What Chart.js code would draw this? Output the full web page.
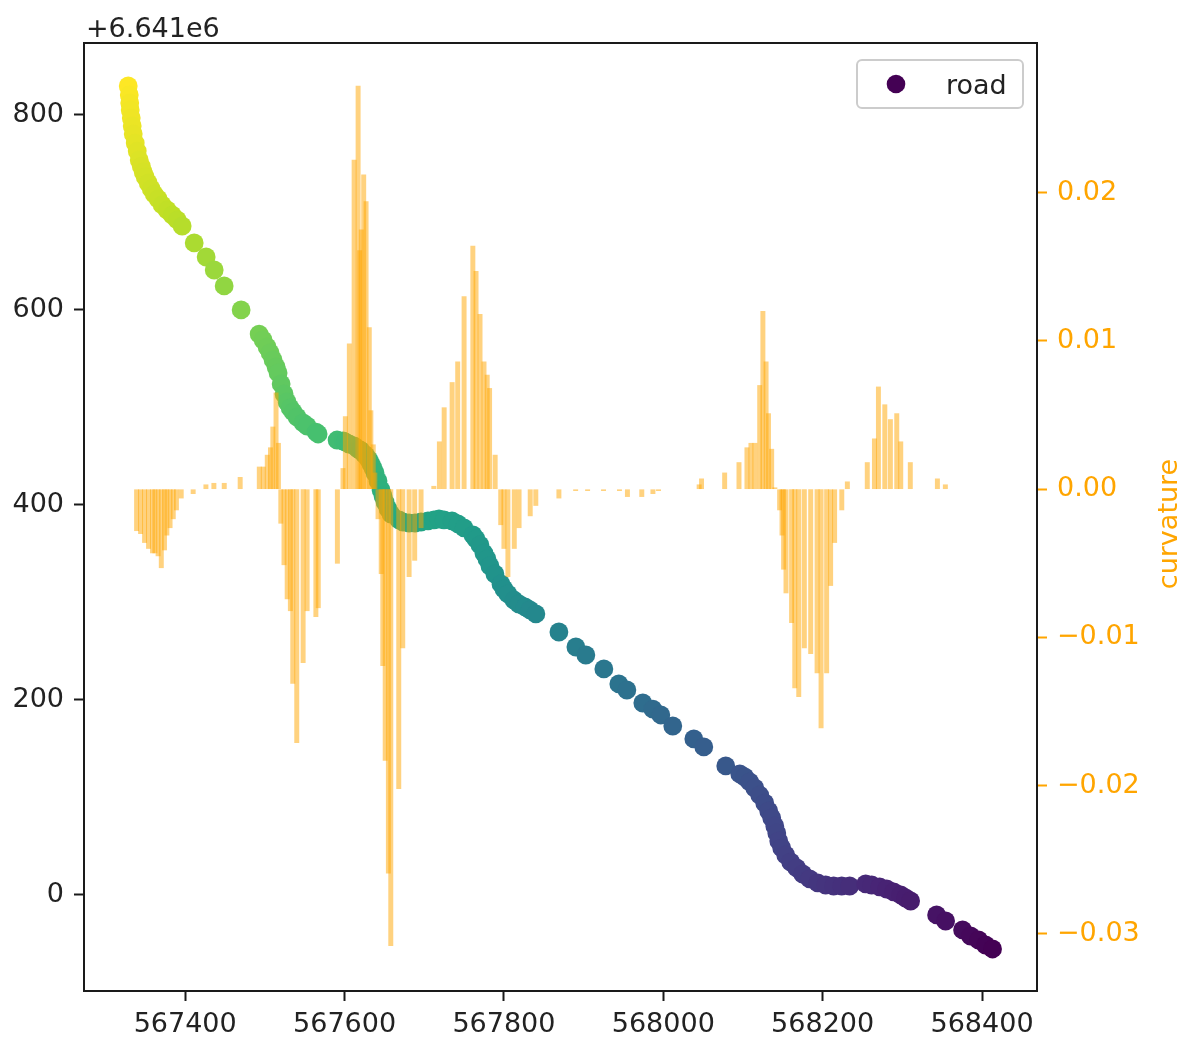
<!DOCTYPE html>
<html><head><meta charset="utf-8">
<script src="https://cdn.jsdelivr.net/npm/chart.js@4.4.1/dist/chart.umd.min.js"></script>
<style>html,body{margin:0;padding:0;background:#fff;}#wrap{width:1184px;height:1039px;position:relative;}</style>
</head><body><div id="wrap"><canvas id="c"></canvas></div>
<script>
// ---- data ----
const seriesLabel = 'road';
const curvLabel = 'curvature';
const yOffset = 6641000;
const yOffsetLabel = '+6.641e6';
const xTicks = [567400, 567600, 567800, 568000, 568200, 568400];
const yTicks = [6641000, 6641200, 6641400, 6641600, 6641800];
const curvTicks = [-0.03, -0.02, -0.01, 0.00, 0.01, 0.02];

const roadX = [
 567328.5,567329.8,567330.4,567331.0,567332.3,567333.5,567334.8,567337.3,567339.8,567342.3,567344.8,567347.3,567349.8,567353.6,567357.4,567361.1,567366.1,567371.1,567377.4,567383.7,567390.0,567396.2,
 567411.3,567426.3,567436.4,567448.9,567470.2,
 567492.8,567497.8,567502.8,567506.6,567510.3,567514.1,567516.6,567520.4,567524.1,567527.9,567531.7,567535.4,567540.4,567548.0,567553.0,567564.3,567566.8,
 567590.6,567598.1,567600.6,567605.6,567611.9,567616.9,567619.4,567620.7,567624.5,567627.0,567630.7,567633.2,567635.7,567638.3,567642.0,567645.8,567648.3,567650.8,567654.6,567658.3,567668.3,567673.4,567680.9,567688.4,567695.9,567704.7,567712.2,567718.5,567724.8,567734.8,567742.3,567749.9,567761.1,567764.9,567769.9,567774.9,567778.7,567782.5,567788.7,567796.3,567800.0,567805.0,567812.6,567818.8,567826.4,567832.6,567840.1,
 567869.0,567890.3,567902.8,567925.4,567944.2,567954.3,567974.3,567986.9,567996.9,568011.9,568038.3,568050.8,568078.4,
 568096.0,568102.2,568108.5,568114.8,568121.0,568127.3,568132.3,568136.1,568139.9,568142.4,568144.9,568148.6,568153.6,568159.9,568167.4,568175.0,568183.7,568193.8,568203.8,568213.8,568223.9,568233.9,
 568254.0,568261.5,568271.5,568280.3,568289.1,568297.9,568304.1,568310.4,568343.0,568354.3,568375.6,568385.6,568395.7,568404.4,568413.2
];
const roadY = [
 6641829.7,6641820.5,6641812.3,6641805.1,6641796.9,6641788.7,6641780.5,6641771.2,6641763.0,6641753.8,6641747.6,6641741.5,6641736.4,6641730.2,6641724.1,6641718.9,6641713.8,6641707.7,6641702.5,6641697.4,6641692.3,6641686.1,
 6641668.7,6641654.3,6641641.0,6641624.6,6641600.0,
 6641575.3,6641569.2,6641562.0,6641555.9,6641548.7,6641541.5,6641535.4,6641524.1,6641513.8,6641505.6,6641499.5,6641495.4,6641490.2,6641484.1,6641481.0,6641474.8,6641472.8,
 6641466.6,6641465.6,6641464.6,6641462.5,6641460.5,6641457.4,6641456.4,6641455.4,6641452.3,6641450.2,6641446.1,6641442.0,6641437.9,6641432.8,6641424.6,6641415.4,6641409.2,6641403.0,6641395.9,6641390.7,6641384.6,6641382.5,6641381.5,6641381.5,6641382.5,6641383.6,6641384.6,6641385.6,6641384.6,6641383.6,6641380.5,6641376.4,6641369.2,6641365.1,6641359.0,6641350.7,6641344.6,6641337.4,6641329.2,6641319.0,6641313.8,6641308.7,6641302.5,6641298.4,6641295.4,6641292.3,6641288.2,
 6641269.7,6641254.3,6641246.1,6641231.8,6641216.4,6641210.2,6641196.9,6641190.7,6641184.6,6641173.3,6641160.0,6641151.8,6641132.3,
 6641124.1,6641121.0,6641115.9,6641109.7,6641102.5,6641094.3,6641086.1,6641079.0,6641070.8,6641063.6,6641055.4,6641048.2,6641041.0,6641033.8,6641027.7,6641021.5,6641016.4,6641012.3,6641010.2,6641009.2,6641009.2,6641009.2,
 6641011.3,6641010.2,6641008.2,6641006.1,6641003.1,6641000.0,6640996.9,6640993.8,6640979.5,6640973.3,6640964.1,6640957.9,6640953.8,6640948.7,6640944.6
];

const curvX = [
 567339,567344,567349,567354,567359,567362,567366,567370,567374,567377,567381,567385,567389,567395,
 567410,567426,567436,567449,567469,
 567493,567498,567503,567507,567510,567514,567517,
 567520,567524,567528,567532,567535,567540,567548,567553,567564,567567,567591,
 567598,567601,567606,567612,567617,567619,567621,567624,567627,567631,567633,567636,567638,
 567642,567646,567648,567651,567655,567658,567668,567673,567681,567688,567696,
 567712,567719,567725,567735,567742,567750,567761,567765,567770,567775,567779,567782,567789,
 567796,567800,567805,567813,567819,567833,567840,567869,
 567890,567905,567925,567945,567955,567973,567987,567994,
 568045,568048,568077,568095,568105,568110,568115,568121,568125,568129,568132,568136,568140,
 568146,568149,568151,568154,568161,568165,568170,568177,568185,568193,568198,568205,568210,568215,568224,568231,
 568256,568265,568270,568278,568285,568293,568298,568310,568344,568354
];
const curvature = [
 -0.0028,-0.0030,-0.0036,-0.0040,-0.0043,-0.0043,-0.0045,-0.0053,-0.0041,-0.0031,-0.0026,-0.0020,-0.0014,-0.0006,
 -0.0003,0.0003,0.0004,0.0004,0.0008,
 0.0015,0.0015,0.0023,0.0028,0.0042,0.0065,0.0031,
 -0.0023,-0.0051,-0.0074,-0.0082,-0.0131,-0.0171,-0.0117,-0.0082,-0.0086,-0.0080,-0.0050,
 0.0014,0.0049,0.0098,0.0222,0.0272,0.0161,0.0175,0.0212,0.0194,0.0109,0.0053,0.0030,0.0011,
 -0.0020,-0.0057,-0.0119,-0.0183,-0.0259,-0.0308,-0.0202,-0.0107,-0.0059,-0.0048,-0.0026,
 0.0002,0.0032,0.0055,0.0072,0.0086,0.0130,0.0164,0.0147,0.0118,0.0086,0.0077,0.0068,0.0023,
 -0.0024,-0.0040,-0.0059,-0.0040,-0.0026,-0.0018,-0.0011,-0.0006,
 -0.0001,-0.0001,-0.0001,-0.0001,-0.0005,-0.0005,-0.0003,-0.0001,
 0.0003,0.0007,0.0011,0.0018,0.0028,0.0031,0.0031,0.0070,0.0120,0.0086,0.0051,0.0027,0.0001,
 -0.0014,-0.0031,-0.0054,-0.0070,-0.0090,-0.0134,-0.0140,-0.0107,-0.0111,-0.0124,-0.0161,-0.0124,-0.0065,-0.0036,-0.0014,0.0005,
 0.0018,0.0034,0.0069,0.0057,0.0047,0.0051,0.0032,0.0018,0.0007,0.0003
];

// ---- styling helpers ----
const VIR = ['#440154','#482475','#414487','#355f8d','#2a788e','#21918c','#22a884','#44bf70','#7ad151','#bddf26','#fde725'];
function hexRgb(h){return [parseInt(h.slice(1,3),16),parseInt(h.slice(3,5),16),parseInt(h.slice(5,7),16)];}
function viridis(t){
  t=Math.min(1,Math.max(0,t)); const p=t*10; const i=Math.min(9,Math.floor(p)); const f=p-i;
  const a=hexRgb(VIR[i]), b=hexRgb(VIR[i+1]);
  return 'rgb('+a.map((v,k)=>Math.round(v+(b[k]-v)*f)).join(',')+')';
}
// colour along the travelled distance (start = yellow, end = purple)
const cum=[0];
for(let i=1;i<roadX.length;i++){const dx=roadX[i]-roadX[i-1],dy=roadY[i]-roadY[i-1];cum.push(cum[i-1]+Math.hypot(dx,dy));}
const total=cum[cum.length-1];
const pointColors=cum.map(s=>viridis(1-s/total));

const FONT='DejaVu Sans';
const FS=27;
const TXT='#222';
const ORANGE='#FFA500';

const decor={
  id:'decor',
  beforeDraw(chart){const c=chart.ctx;c.save();c.fillStyle='#fff';c.fillRect(0,0,chart.width,chart.height);c.restore();},
  afterDatasetsDraw(chart){
    const c=chart.ctx, a=chart.chartArea;
    c.save();
    c.strokeStyle='#1a1a1a'; c.lineWidth=2;
    c.strokeRect(a.left,a.top,a.right-a.left,a.bottom-a.top);
    // offset text
    c.fillStyle=TXT; c.font=FS+'px "'+FONT+'"'; c.textAlign='left'; c.textBaseline='alphabetic';
    c.fillText(yOffsetLabel,a.left+2,a.top-6);
    // right axis label
    c.save(); c.translate(1177,524); c.rotate(-Math.PI/2); c.fillStyle=ORANGE; c.textAlign='center';
    c.fillText(curvLabel,0,0); c.restore();
    // legend
    const lx=857, ly=60, lw=166, lh=48;
    c.beginPath(); c.roundRect(lx,ly,lw,lh,5);
    c.fillStyle='rgba(255,255,255,0.8)'; c.fill();
    c.strokeStyle='#cccccc'; c.lineWidth=2; c.stroke();
    c.beginPath(); c.arc(896,84,9.3,0,Math.PI*2); c.fillStyle='#440154'; c.fill();
    c.fillStyle=TXT; c.textAlign='left'; c.fillText(seriesLabel,946,94);
    c.restore();
  }
};

const minus=v=>v<0?'\u2212'+Math.abs(v).toFixed(2):v.toFixed(2);

new Chart(document.getElementById('c'),{
  type:'scatter',
  data:{datasets:[
    {type:'bar',label:curvLabel,yAxisID:'y2',xAxisID:'x',order:0,
     data:curvX.map((x,i)=>({x:x,y:curvature[i]})),
     backgroundColor:'rgba(255,165,0,0.5)',borderWidth:0,barThickness:4.3},
    {type:'scatter',label:seriesLabel,yAxisID:'y',xAxisID:'x',order:1,
     data:roadX.map((x,i)=>({x:x,y:roadY[i]})),
     pointRadius:9.4,pointHoverRadius:9.4,pointBorderWidth:0,
     pointBackgroundColor:pointColors,pointBorderColor:pointColors}
  ]},
  options:{
    responsive:true,maintainAspectRatio:false,animation:false,devicePixelRatio:1,events:[],
    layout:{padding:{top:43,left:0,right:0,bottom:0}},
    plugins:{legend:{display:false},tooltip:{enabled:false},title:{display:false}},
    scales:{
      x:{type:'linear',position:'bottom',min:567273,max:568469,offset:false,
         afterBuildTicks:s=>{s.ticks=xTicks.map(v=>({value:v}));},
         afterFit:s=>{s.height=48;},
         ticks:{callback:v=>String(v),color:TXT,font:{family:FONT,size:FS},padding:8,maxRotation:0,autoSkip:false},
         grid:{drawOnChartArea:false,drawTicks:true,tickLength:10,tickWidth:2,tickColor:'#1a1a1a',offset:false},
         border:{display:false}},
      y:{type:'linear',position:'left',min:yOffset-98.5,max:yOffset+873.8,
         afterBuildTicks:s=>{s.ticks=yTicks.map(v=>({value:v}));},
         afterFit:s=>{s.width=84;},
         ticks:{callback:v=>String(Math.round(v-yOffset)),color:TXT,font:{family:FONT,size:FS},padding:10,autoSkip:false},
         grid:{drawOnChartArea:false,drawTicks:true,tickLength:10,tickWidth:2,tickColor:'#1a1a1a'},
         border:{display:false}},
      y2:{type:'linear',position:'right',min:-0.03385,max:0.0301,
         afterBuildTicks:s=>{s.ticks=curvTicks.map(v=>({value:v}));},
         afterFit:s=>{s.width=147;},
         ticks:{callback:v=>minus(v),color:ORANGE,font:{family:FONT,size:FS},padding:10,autoSkip:false},
         grid:{drawOnChartArea:false,drawTicks:true,tickLength:10,tickWidth:2,tickColor:ORANGE},
         border:{display:false}}
    }
  },
  plugins:[decor]
});
</script></body></html>
